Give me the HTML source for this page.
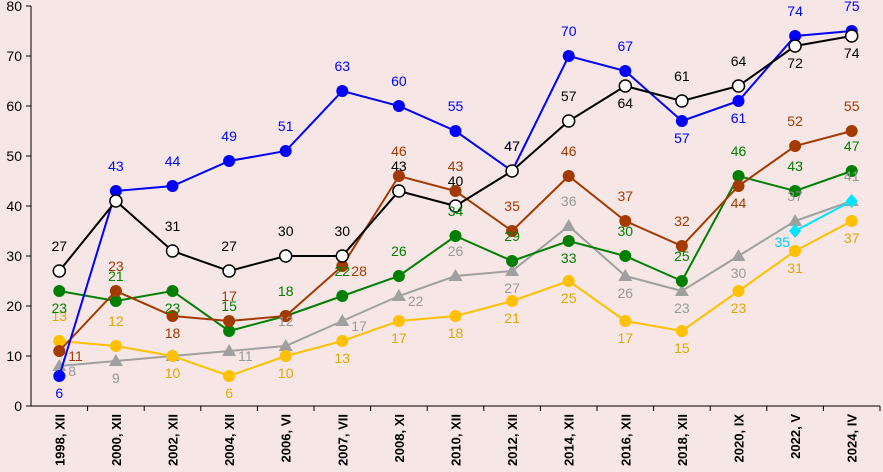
<!DOCTYPE html>
<html><head><meta charset="utf-8"><style>
body{margin:0;background:#f6e6e6;}
svg{display:block;font-family:"Liberation Sans",sans-serif;}
</style></head><body>
<svg id="c" width="883" height="472"></svg>
<script>
const categories=["1998, XII","2000, XII","2002, XII","2004, XII","2006, VI","2007, VII","2008, XI","2010, XII","2012, XII","2014, XII","2016, XII","2018, XII","2020, IX","2022, V","2024, IV"];
const blueVals=[6,43,44,49,51,63,60,55,47,70,67,57,61,74,75];
const blackVals=[27,41,31,27,30,30,43,40,47,57,64,61,64,72,74];
const brownVals=[11,23,18,17,18,28,46,43,35,46,37,32,44,52,55];
const greenVals=[23,21,23,15,18,22,26,34,29,33,30,25,46,43,47];
const grayVals=[8,9,10,11,12,17,22,26,27,36,26,23,30,37,41];
const yellowVals=[13,12,10,6,10,13,17,18,21,25,17,15,23,31,37];
const cyanVals=[null,null,null,null,null,null,null,null,null,null,null,null,null,35,41];
const yTicks=[0,10,20,30,40,50,60,70,80];
// label placement: a=above, b=below, r=right, l=left, n=none
const blueLab="baaaaaaaaaabbaa";
const blackLab="anaaaaaaaabaabb";
const brownLab="rabanraaaaaabaa";
const greenLab="babaaaaaabaaaaa";
const grayLab="rbnrarrababbbaa";
const yellowLab="aabbbbbbbbbbbbb";
const cyanLab="nnnnnnnnnnnnnln";
const svg=document.getElementById('c');const NS="http://www.w3.org/2000/svg";
const X0=31,X1=880,Y0=406,Y1=6;
const step=(X1-X0)/categories.length;
const x=i=>X0+step*(i+0.5);const y=v=>Y0-(v/80)*(Y0-Y1);
function mk(t,a,p){const e=document.createElementNS(NS,t);for(const k in a)e.setAttribute(k,a[k]);(p||svg).appendChild(e);return e;}
yTicks.forEach(v=>{const t=mk('text',{x:X0-9,y:y(v)+5,'text-anchor':'end','font-size':14,fill:'#000'});t.textContent=v;


mk('line',{x1:X0-5,x2:X0,y1:y(v),y2:y(v),stroke:'#000'});});
mk('line',{x1:X0,x2:X0,y1:Y1,y2:Y0,stroke:'#000'});
mk('line',{x1:X0,x2:X1,y1:Y0,y2:Y0,stroke:'#000'});
categories.forEach((c,i)=>{mk('line',{x1:X0+step*(i+1),x2:X0+step*(i+1),y1:Y0,y2:Y0+5,stroke:'#000'});
const t=mk('text',{transform:`translate(${x(i)+5},${Y0+8}) rotate(-90)`,'text-anchor':'end','font-size':13,'font-weight':'bold',fill:'#000'});t.textContent=c;

});
const series=[
{n:'gray',v:grayVals,l:grayLab,c:'#a0a0a0',lc:'#999',m:'tri'},
{n:'yellow',v:yellowVals,l:yellowLab,c:'#ffc000',lc:'#e0a800',m:'circ'},
{n:'green',v:greenVals,l:greenLab,c:'#008000',lc:'#008000',m:'circ'},
{n:'brown',v:brownVals,l:brownLab,c:'#a33a00',lc:'#a33a00',m:'circ'},
{n:'blue',v:blueVals,l:blueLab,c:'#0000ff',lc:'#0000ff',m:'circ'},
{n:'black',v:blackVals,l:blackLab,c:'#000',lc:'#000',m:'open'},
{n:'cyan',v:cyanVals,l:cyanLab,c:'#00e5ff',lc:'#00d0f0',m:'dia'}];
const labelLayer=document.createElementNS(NS,'g');
series.forEach(s=>{const g=mk('g',{});


const pts=[];s.v.forEach((v,i)=>{if(v!=null)pts.push(x(i)+','+y(v));});
mk('polyline',{points:pts.join(' '),fill:'none',stroke:s.c,'stroke-width':2},g);
s.v.forEach((v,i)=>{if(v==null)return;const px=x(i),py=y(v);let e;
if(s.m=='circ')e=mk('circle',{cx:px,cy:py,r:6,fill:s.c},g);
else if(s.m=='open')e=mk('circle',{cx:px,cy:py,r:6,fill:'#fff',stroke:'#000','stroke-width':1.5},g);
else if(s.m=='tri')e=mk('polygon',{points:`${px},${py-7} ${px-7},${py+5} ${px+7},${py+5}`,fill:s.c},g);
else e=mk('polygon',{points:`${px},${py-7} ${px+6},${py} ${px},${py+7} ${px-6},${py}`,fill:s.c},g);


const p=s.l[i];if(p=='n')return;
let lx=px,ly=py-20,an='middle';
if(p=='b')ly=py+22;if(p=='r'){lx=px+9;ly=py+10;an='start';}
if(p=='l'){lx=px-5;ly=py+16;an='end';}
const t=mk('text',{x:lx,y:ly,'text-anchor':an,'font-size':14,fill:s.lc},labelLayer);t.textContent=v;

});});
svg.appendChild(labelLayer);


</script>
</body></html>
